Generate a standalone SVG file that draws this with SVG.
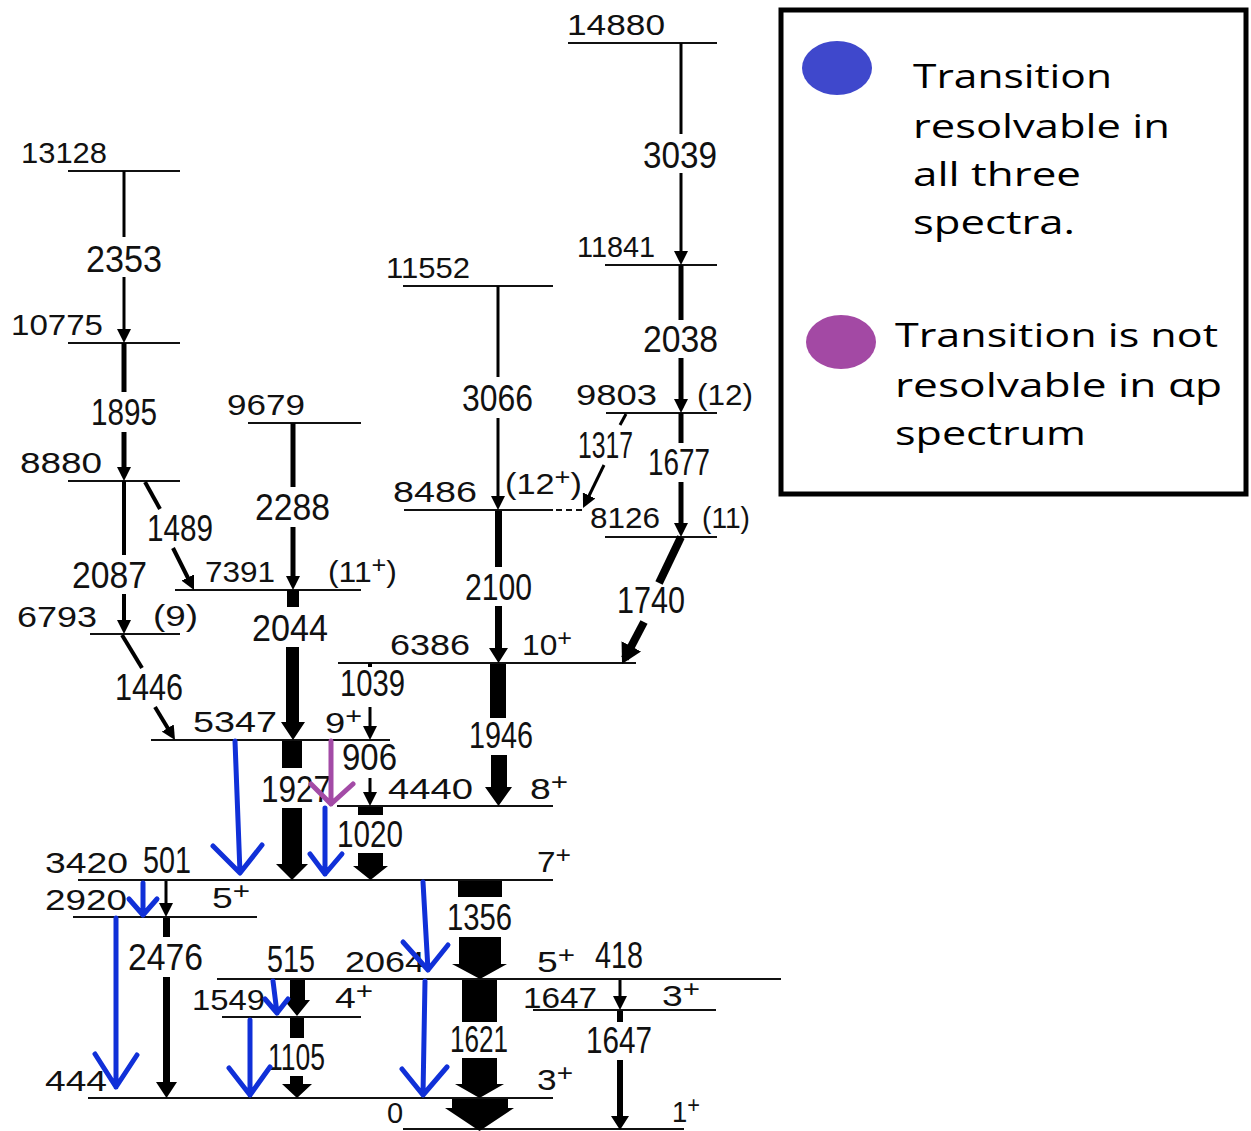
<svg xmlns="http://www.w3.org/2000/svg" width="1251" height="1131" viewBox="0 0 1251 1131">
<style>
text{font-family:"Liberation Sans",Arial,sans-serif;fill:#111}
.lv{font-size:29px}
.tr{font-size:37px}
.sp{font-size:23px}
.lg{font-family:"Open Sans","Noto Sans",sans-serif;font-size:32px;fill:#000}
.lvl{stroke:#111;stroke-width:2.2;fill:none}
.ln{stroke:#000;fill:none}
.w3{stroke-width:3}
.w4{stroke-width:4}
.w5{stroke-width:5}
.w7{stroke-width:7}
.w8{stroke-width:8}
.k{fill:#000;stroke:none}
.blue{stroke:#1030d8;stroke-width:5;fill:none;stroke-linecap:round;stroke-linejoin:round}
.purp{stroke:#a34ba6;stroke-width:5;fill:none;stroke-linecap:round;stroke-linejoin:round}
</style>
<defs>
<marker id="ah" viewBox="0 0 10 10" refX="6" refY="5" markerWidth="14" markerHeight="14" markerUnits="userSpaceOnUse" orient="auto"><path d="M0,0L10,5L0,10z" fill="#000"/></marker>
<marker id="ahL" viewBox="0 0 20 22" refX="14" refY="11" markerWidth="20" markerHeight="22" markerUnits="userSpaceOnUse" orient="auto"><path d="M0,0L20,11L0,22z" fill="#000"/></marker>
</defs>
<rect width="1251" height="1131" fill="#fff"/>

<g id="levels">
<g id="lvl-14880"><line class="lvl" x1="568" y1="43" x2="717" y2="43"/><text class="lv" x="567" y="35" textLength="98" lengthAdjust="spacingAndGlyphs">14880</text></g>
<g id="lvl-13128"><line class="lvl" x1="68" y1="171" x2="180" y2="171"/><text class="lv" x="21" y="163" textLength="86" lengthAdjust="spacingAndGlyphs">13128</text></g>
<g id="lvl-11841"><line class="lvl" x1="605" y1="265" x2="717" y2="265"/><text class="lv" x="577" y="257" textLength="78" lengthAdjust="spacingAndGlyphs">11841</text></g>
<g id="lvl-11552"><line class="lvl" x1="403" y1="286" x2="553" y2="286"/><text class="lv" x="386" y="278" textLength="84" lengthAdjust="spacingAndGlyphs">11552</text></g>
<g id="lvl-10775"><line class="lvl" x1="68" y1="343" x2="180" y2="343"/><text class="lv" x="11" y="335" textLength="92" lengthAdjust="spacingAndGlyphs">10775</text></g>
<g id="lvl-9679"><line class="lvl" x1="248" y1="423" x2="361" y2="423"/><text class="lv" x="227" y="415" textLength="78" lengthAdjust="spacingAndGlyphs">9679</text></g>
<g id="lvl-9803"><line class="lvl" x1="606" y1="413" x2="717" y2="413"/><text class="lv" x="576" y="405" textLength="81" lengthAdjust="spacingAndGlyphs">9803</text><text class="lv" x="697" y="405" textLength="56" lengthAdjust="spacingAndGlyphs">(12)</text></g>
<g id="lvl-8880"><line class="lvl" x1="68" y1="481" x2="180" y2="481"/><text class="lv" x="20" y="473" textLength="82" lengthAdjust="spacingAndGlyphs">8880</text></g>
<g id="lvl-8486"><line class="lvl" x1="404" y1="510" x2="553" y2="510"/><line class="lvl" x1="556" y1="510" x2="582" y2="510" stroke-dasharray="6 4"/><text class="lv" x="393" y="502" textLength="84" lengthAdjust="spacingAndGlyphs">8486</text><text class="lv" x="505" y="494" textLength="77" lengthAdjust="spacingAndGlyphs">(12<tspan class="sp" dy="-9">+</tspan><tspan dy="9">)</tspan></text></g>
<g id="lvl-8126"><line class="lvl" x1="605" y1="537" x2="717" y2="537"/><text class="lv" x="590" y="528" textLength="70" lengthAdjust="spacingAndGlyphs">8126</text><text class="lv" x="702" y="528" textLength="48" lengthAdjust="spacingAndGlyphs">(11)</text></g>
<g id="lvl-7391"><line class="lvl" x1="175" y1="590" x2="361" y2="590"/><text class="lv" x="205" y="582" textLength="70" lengthAdjust="spacingAndGlyphs">7391</text><text class="lv" x="328" y="582" textLength="69" lengthAdjust="spacingAndGlyphs">(11<tspan class="sp" dy="-9">+</tspan><tspan dy="9">)</tspan></text></g>
<g id="lvl-6793"><line class="lvl" x1="90" y1="634" x2="180" y2="634"/><text class="lv" x="17" y="627" textLength="80" lengthAdjust="spacingAndGlyphs">6793</text><text class="lv" x="153" y="626" textLength="45" lengthAdjust="spacingAndGlyphs">(9)</text></g>
<g id="lvl-6386"><line class="lvl" x1="338" y1="663" x2="636" y2="663"/><text class="lv" x="390" y="655" textLength="80" lengthAdjust="spacingAndGlyphs">6386</text><text class="lv" x="522" y="655" textLength="50" lengthAdjust="spacingAndGlyphs">10<tspan class="sp" dy="-9">+</tspan></text></g>
<g id="lvl-5347"><line class="lvl" x1="151" y1="740" x2="390" y2="740"/><text class="lv" x="193" y="732" textLength="84" lengthAdjust="spacingAndGlyphs">5347</text><text class="lv" x="325" y="733" textLength="37" lengthAdjust="spacingAndGlyphs">9<tspan class="sp" dy="-9">+</tspan></text></g>
<g id="lvl-4440"><line class="lvl" x1="337" y1="806" x2="553" y2="806"/><text class="lv" x="388" y="799" textLength="85" lengthAdjust="spacingAndGlyphs">4440</text><text class="lv" x="530" y="799" textLength="38" lengthAdjust="spacingAndGlyphs">8<tspan class="sp" dy="-9">+</tspan></text></g>
<g id="lvl-3420"><line class="lvl" x1="78" y1="880" x2="553" y2="880"/><text class="lv" x="45" y="873" textLength="83" lengthAdjust="spacingAndGlyphs">3420</text><text class="lv" x="537" y="872" textLength="34" lengthAdjust="spacingAndGlyphs">7<tspan class="sp" dy="-9">+</tspan></text></g>
<g id="lvl-2920"><line class="lvl" x1="73" y1="917" x2="257" y2="917"/><text class="lv" x="45" y="910" textLength="82" lengthAdjust="spacingAndGlyphs">2920</text><text class="lv" x="212" y="908" textLength="38" lengthAdjust="spacingAndGlyphs">5<tspan class="sp" dy="-9">+</tspan></text></g>
<g id="lvl-2064"><line class="lvl" x1="217" y1="979" x2="781" y2="979"/><text class="lv" x="345" y="972" textLength="80" lengthAdjust="spacingAndGlyphs">2064</text><text class="lv" x="537" y="972" textLength="38" lengthAdjust="spacingAndGlyphs">5<tspan class="sp" dy="-9">+</tspan></text></g>
<g id="lvl-1549"><line class="lvl" x1="222" y1="1017" x2="361" y2="1017"/><text class="lv" x="192" y="1010" textLength="73" lengthAdjust="spacingAndGlyphs">1549</text><text class="lv" x="335" y="1008" textLength="38" lengthAdjust="spacingAndGlyphs">4<tspan class="sp" dy="-9">+</tspan></text></g>
<g id="lvl-1647"><line class="lvl" x1="533" y1="1010" x2="716" y2="1010"/><text class="lv" x="523" y="1008" textLength="74" lengthAdjust="spacingAndGlyphs">1647</text><text class="lv" x="662" y="1006" textLength="38" lengthAdjust="spacingAndGlyphs">3<tspan class="sp" dy="-9">+</tspan></text></g>
<g id="lvl-444"><line class="lvl" x1="88" y1="1098" x2="553" y2="1098"/><text class="lv" x="45" y="1091" textLength="62" lengthAdjust="spacingAndGlyphs">444</text><text class="lv" x="537" y="1090" textLength="36" lengthAdjust="spacingAndGlyphs">3<tspan class="sp" dy="-9">+</tspan></text></g>
<g id="lvl-0"><line class="lvl" x1="403" y1="1129" x2="684" y2="1129"/><text class="lv" x="387" y="1123">0</text><text class="lv" x="672" y="1122" textLength="28" lengthAdjust="spacingAndGlyphs">1<tspan class="sp" dy="-9">+</tspan></text></g>
</g>

<g id="connectors">
<g id="t-3039"><path class="ln w3" d="M681,43V134"/><path class="ln w3" d="M681,173V259.4" marker-end="url(#ah)"/><text class="tr" x="643" y="168" textLength="74" lengthAdjust="spacingAndGlyphs">3039</text></g>
<g id="t-2038"><path class="ln w5" d="M681,265V320"/><path class="ln w5" d="M681,358V407.4" marker-end="url(#ah)"/><text class="tr" x="643" y="352" textLength="75" lengthAdjust="spacingAndGlyphs">2038</text></g>
<g id="t-1677"><path class="ln w5" d="M681,413V443"/><path class="ln w5" d="M681,482V531.4" marker-end="url(#ah)"/><text class="tr" x="648" y="475" textLength="62" lengthAdjust="spacingAndGlyphs">1677</text></g>
<g id="t-1317"><path class="ln w3" d="M626,414L620,425"/><path class="ln w3" d="M604,465L585.5,503" marker-end="url(#ah)"/><text class="tr" x="578" y="458" textLength="55" lengthAdjust="spacingAndGlyphs">1317</text></g>
<g id="t-1740"><path class="ln w8" d="M681,537L659,583"/><path class="ln w8" d="M644,622L624.8,658.7" marker-end="url(#ahL)"/><text class="tr" x="617" y="613" textLength="68" lengthAdjust="spacingAndGlyphs">1740</text></g>
<g id="t-3066"><path class="ln w3" d="M498,286V377"/><path class="ln w3" d="M498,418V504.4" marker-end="url(#ah)"/><text class="tr" x="462" y="411" textLength="71" lengthAdjust="spacingAndGlyphs">3066</text></g>
<g id="t-2100"><rect class="k" x="495" y="511" width="7" height="56"/><path class="k" d="M495,606H502V648H508L498.5,663L489,648H495Z"/><text class="tr" x="465" y="600" textLength="67" lengthAdjust="spacingAndGlyphs">2100</text></g>
<g id="t-2353"><path class="ln w3" d="M124,171V237"/><path class="ln w3" d="M124,277V337.4" marker-end="url(#ah)"/><text class="tr" x="86" y="272" textLength="76" lengthAdjust="spacingAndGlyphs">2353</text></g>
<g id="t-1895"><path class="ln w5" d="M124,343V392"/><path class="ln w5" d="M124,432V475.4" marker-end="url(#ah)"/><text class="tr" x="91" y="425" textLength="66" lengthAdjust="spacingAndGlyphs">1895</text></g>
<g id="t-2087"><path class="ln w4" d="M124,481V555"/><path class="ln w4" d="M124,594V628.4" marker-end="url(#ah)"/><text class="tr" x="72" y="588" textLength="75" lengthAdjust="spacingAndGlyphs">2087</text></g>
<g id="t-1489"><path class="ln w4" d="M145,482L160,509"/><path class="ln w4" d="M173,548L191.5,585" marker-end="url(#ah)"/><text class="tr" x="147" y="541" textLength="66" lengthAdjust="spacingAndGlyphs">1489</text></g>
<g id="t-1446"><path class="ln w4" d="M122,635L142,668"/><path class="ln w4" d="M155,707L172.1,735.2" marker-end="url(#ah)"/><text class="tr" x="115" y="700" textLength="68" lengthAdjust="spacingAndGlyphs">1446</text></g>
<g id="t-2288"><path class="ln w5" d="M293,423V487"/><path class="ln w5" d="M293,527V584.4" marker-end="url(#ah)"/><text class="tr" x="255" y="520" textLength="75" lengthAdjust="spacingAndGlyphs">2288</text></g>
<g id="t-2044"><rect class="k" x="287" y="590" width="12" height="17"/><path class="k" d="M286,647H299V722H305L293,740L281,722H286Z"/><text class="tr" x="252" y="641" textLength="76" lengthAdjust="spacingAndGlyphs">2044</text></g>
<g id="t-1039"><rect class="k" x="368" y="663" width="4" height="4"/><path class="ln w3" d="M370,707V734.4" marker-end="url(#ah)"/><text class="tr" x="340" y="696" textLength="65" lengthAdjust="spacingAndGlyphs">1039</text></g>
<g id="t-1946"><rect class="k" x="490" y="664" width="16" height="54"/><path class="k" d="M491,755H507V787H512L498.5,806L485,787H491Z"/><text class="tr" x="469" y="748" textLength="64" lengthAdjust="spacingAndGlyphs">1946</text></g>
<g id="t-1927"><rect class="k" x="282" y="741" width="20" height="27"/><path class="k" d="M282,808H302V864H308L292,880L276,864H282Z"/><text class="tr" x="261" y="802" textLength="70" lengthAdjust="spacingAndGlyphs">1927</text></g>
<g id="t-906"><path class="ln w3" d="M370,778V800.4" marker-end="url(#ah)"/><text class="tr" x="342" y="770" textLength="55" lengthAdjust="spacingAndGlyphs">906</text></g>
<g id="t-1020"><rect class="k" x="358" y="807" width="25" height="8"/><path class="k" d="M358,853H383V866H388L370.5,880L353,866H358Z"/><text class="tr" x="337" y="847" textLength="66" lengthAdjust="spacingAndGlyphs">1020</text></g>
<g id="t-501"><path class="ln w3" d="M166,881V911.4" marker-end="url(#ah)"/><text class="tr" x="143" y="873" textLength="48" lengthAdjust="spacingAndGlyphs">501</text></g>
<g id="t-2476"><rect class="k" x="163" y="918" width="7" height="19"/><path class="k" d="M163,977H170V1082H177L166.5,1098L156,1082H163Z"/><text class="tr" x="128" y="970" textLength="75" lengthAdjust="spacingAndGlyphs">2476</text></g>
<g id="t-1356"><rect class="k" x="458" y="881" width="44" height="16"/><path class="k" d="M459,937H501V964H507L480,979L452,964H459Z"/><text class="tr" x="447" y="930" textLength="65" lengthAdjust="spacingAndGlyphs">1356</text></g>
<g id="t-1621"><rect class="k" x="462" y="980" width="35" height="42"/><path class="k" d="M462,1058H497V1084H504L479.5,1098L455,1084H462Z"/><text class="tr" x="450" y="1052" textLength="58" lengthAdjust="spacingAndGlyphs">1621</text></g>
<g id="t-444"><path class="k" d="M452,1099H508V1108H514L479.5,1131L445,1108H452Z"/></g>
<g id="t-418"><path class="ln w3" d="M620,980V1004.4" marker-end="url(#ah)"/><text class="tr" x="595" y="968" textLength="48" lengthAdjust="spacingAndGlyphs">418</text></g>
<g id="t-1647"><rect class="k" x="617" y="1011" width="6" height="11"/><path class="k" d="M617,1060H623V1116H629L620,1130L611,1116H617Z"/><text class="tr" x="586" y="1053" textLength="66" lengthAdjust="spacingAndGlyphs">1647</text></g>
<g id="t-515"><path class="k" d="M290,980H305V1000H310L297,1016L284,1000H290Z"/><text class="tr" x="267" y="972" textLength="48" lengthAdjust="spacingAndGlyphs">515</text></g>
<g id="t-1105"><rect class="k" x="290" y="1018" width="14" height="20"/><path class="k" d="M290,1076H303V1084H312L297,1098L282,1084H290Z"/><text class="tr" x="268" y="1070" textLength="57" lengthAdjust="spacingAndGlyphs">1105</text></g>

<g id="highlights">
<path class="blue" d="M235,741L240,873M213,846L240,873L262,845"/>
<path class="blue" d="M325,808L325,874M310,854L325,874L342,854"/>
<path class="blue" d="M143,883L143,915M129,899L143,915L157,899"/>
<path class="blue" d="M116,918L116,1087M95,1054L116,1087L137,1055"/>
<path class="blue" d="M423,882L428,970M403,942L428,970L448,945"/>
<path class="blue" d="M425,981L423,1095M402,1069L423,1095L447,1067"/>
<path class="blue" d="M273,981L277,1013M265,999L277,1013L288,999"/>
<path class="blue" d="M250,1020L250,1095M229,1068L250,1095L270,1067"/>
<path class="purp" d="M331,741L331,804M311,784L331,804L353,784"/>
</g>
</g>

<g id="legend">
<rect x="781" y="10" width="465" height="484" fill="none" stroke="#000" stroke-width="5"/>
<ellipse cx="837" cy="68" rx="35" ry="27" fill="#3f48cc"/>
<ellipse cx="841" cy="342" rx="35" ry="27" fill="#a349a4"/>
<text class="lg" x="913" y="88" textLength="199" lengthAdjust="spacingAndGlyphs">Transition</text>
<text class="lg" x="913" y="138" textLength="257" lengthAdjust="spacingAndGlyphs">resolvable in</text>
<text class="lg" x="913" y="186" textLength="168" lengthAdjust="spacingAndGlyphs">all three</text>
<text class="lg" x="913" y="234" textLength="162" lengthAdjust="spacingAndGlyphs">spectra.</text>
<text class="lg" x="895" y="347" textLength="323" lengthAdjust="spacingAndGlyphs">Transition is not</text>
<text class="lg" x="895" y="397" textLength="327" lengthAdjust="spacingAndGlyphs">resolvable in αp</text>
<text class="lg" x="895" y="445" textLength="191" lengthAdjust="spacingAndGlyphs">spectrum</text>
</g>
</svg>
